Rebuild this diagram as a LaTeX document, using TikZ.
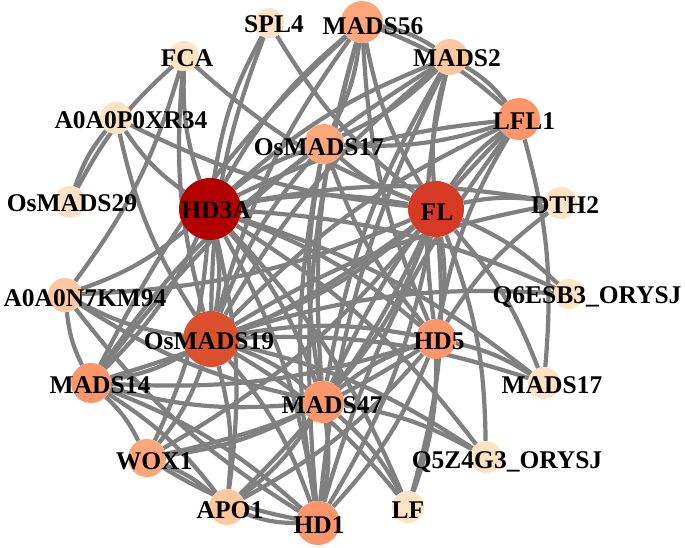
\documentclass[tikz,border=0pt]{standalone}
\usepackage{fontspec}
\setmainfont{Liberation Serif}
\usetikzlibrary{backgrounds}
\definecolor{edgegray}{RGB}{128,128,128}
\definecolor{cdark}{RGB}{178,0,0}
\definecolor{cfl}{RGB}{214,58,36}
\definecolor{co19}{RGB}{220,80,45}
\definecolor{csal}{RGB}{252,150,106}
\definecolor{csal2}{RGB}{252,166,122}
\definecolor{cmid}{RGB}{253,200,160}
\definecolor{clight}{RGB}{254,226,196}
\tikzset{
  gnode/.style={circle, inner sep=0pt, minimum size=#1},
  lbl/.style={font=\fontsize{25.5}{25.5}\selectfont\bfseries, inner sep=0pt},
  edge/.style={draw=edgegray, line width=4.2pt},
}
\begin{document}
\begin{tikzpicture}[x=1pt,y=-1pt]
\useasboundingbox (0,0) rectangle (685,547);
% nodes
\node[gnode=30pt, fill=clight] (spl) at (269,23) {};
\node[gnode=42pt, fill=csal2] (m56) at (362,22) {};
\node[gnode=30pt, fill=clight] (fca) at (184,56) {};
\node[gnode=36pt, fill=cmid] (m2) at (450,57) {};
\node[gnode=32pt, fill=clight] (xr) at (116,118) {};
\node[gnode=42pt, fill=csal] (lfl) at (519,119) {};
\node[gnode=40pt, fill=csal2] (o17) at (324,144) {};
\node[gnode=32pt, fill=clight] (o29) at (70,202) {};
\node[gnode=62pt, fill=cdark] (hd3) at (210,209) {};
\node[gnode=56pt, fill=cfl] (fl) at (436,209) {};
\node[gnode=32pt, fill=clight] (dth) at (561,203) {};
\node[gnode=34pt, fill=cmid] (km) at (65,295) {};
\node[gnode=30pt, fill=clight] (q6) at (569,294) {};
\node[gnode=56pt, fill=co19] (o19) at (211,339) {};
\node[gnode=40pt, fill=csal] (hd5) at (436,339) {};
\node[gnode=40pt, fill=csal] (m14) at (91,383) {};
\node[gnode=32pt, fill=clight] (m17) at (544,383) {};
\node[gnode=42pt, fill=csal] (m47) at (323,402) {};
\node[gnode=38pt, fill=csal2] (wox) at (147,458) {};
\node[gnode=32pt, fill=clight] (q5) at (486,457) {};
\node[gnode=36pt, fill=cmid] (apo) at (227,507) {};
\node[gnode=44pt, fill=csal] (hd1) at (318,523) {};
\node[gnode=32pt, fill=clight] (lf) at (408,507) {};
% edges
\begin{pgfonlayer}{background}
\foreach \b in {spl,m56,fca,m2,xr,lfl,o17,fl,dth,km,q6,o19,hd5,m14,m17,m47,wox,q5,apo,hd1,lf}
  \draw[edge] (hd3) to[bend left=10] (\b);
\foreach \b in {spl,m56,fca,m2,xr,lfl,o17,dth,km,q6,o19,hd5,m14,m17,m47,wox,q5,apo,hd1,lf}
  \draw[edge] (fl) to[bend left=10] (\b);
\foreach \b in {spl,m56,fca,m2,xr,lfl,o17,km,dth,q6,hd5,m14,m17,m47,wox,q5,apo,hd1,lf}
  \draw[edge] (o19) to[bend left=10] (\b);
\foreach \b in {m56,m2,lfl,o17,km,hd5,m14,wox,apo,hd1,lf,q5}
  \draw[edge] (m47) to[bend left=10] (\b);
\foreach \b in {m56,m2,lfl,o17,m14,hd1,lf,dth,m17,wox,apo}
  \draw[edge] (hd5) to[bend left=10] (\b);
\foreach \b in {km,wox,apo,hd1,m56,m2,o17}
  \draw[edge] (m14) to[bend left=10] (\b);
\foreach \b in {wox,apo,m56,m2,lfl,o17,km}
  \draw[edge] (hd1) to[bend left=10] (\b);
\foreach \a/\b in {wox/apo,m56/m2,m56/lfl,m56/o17,m2/lfl,m2/o17,lfl/o17,lfl/m17,o29/fca,o29/xr,fca/km}
  \draw[edge] (\a) to[bend left=10] (\b);
\end{pgfonlayer}
% labels
\node[lbl] (spl-l) at (274,24) {SPL4};
\node[lbl] (m56-l) at (373,26) {MADS56};
\node[lbl] (fca-l) at (187,58) {FCA};
\node[lbl] (m2-l) at (457,58) {MADS2};
\node[lbl] (xr-l) at (131,120) {A0A0P0XR34};
\node[lbl] (lfl-l) at (524,121) {LFL1};
\node[lbl] (o17-l) at (319,147) {OsMADS17};
\node[lbl] (o29-l) at (72,203) {OsMADS29};
\node[lbl] (hd3-l) at (216,210) {HD3A};
\node[lbl] (fl-l) at (437,212) {FL};
\node[lbl] (dth-l) at (565,205) {DTH2};
\node[lbl] (km-l) at (85,298) {A0A0N7KM94};
\node[lbl] (q6-l) at (587,297) {Q6ESB3\_ORYSJ};
\node[lbl] (o19-l) at (209,341) {OsMADS19};
\node[lbl] (hd5-l) at (439,341) {HD5};
\node[lbl] (m14-l) at (100,385) {MADS14};
\node[lbl] (m17-l) at (552,385) {MADS17};
\node[lbl] (m47-l) at (332,405) {MADS47};
\node[lbl] (wox-l) at (154,461) {WOX1};
\node[lbl] (q5-l) at (507,462) {Q5Z4G3\_ORYSJ};
\node[lbl] (apo-l) at (230,510) {APO1};
\node[lbl] (hd1-l) at (319,525) {HD1};
\node[lbl] (lf-l) at (408,510) {LF};
\end{tikzpicture}
\end{document}
